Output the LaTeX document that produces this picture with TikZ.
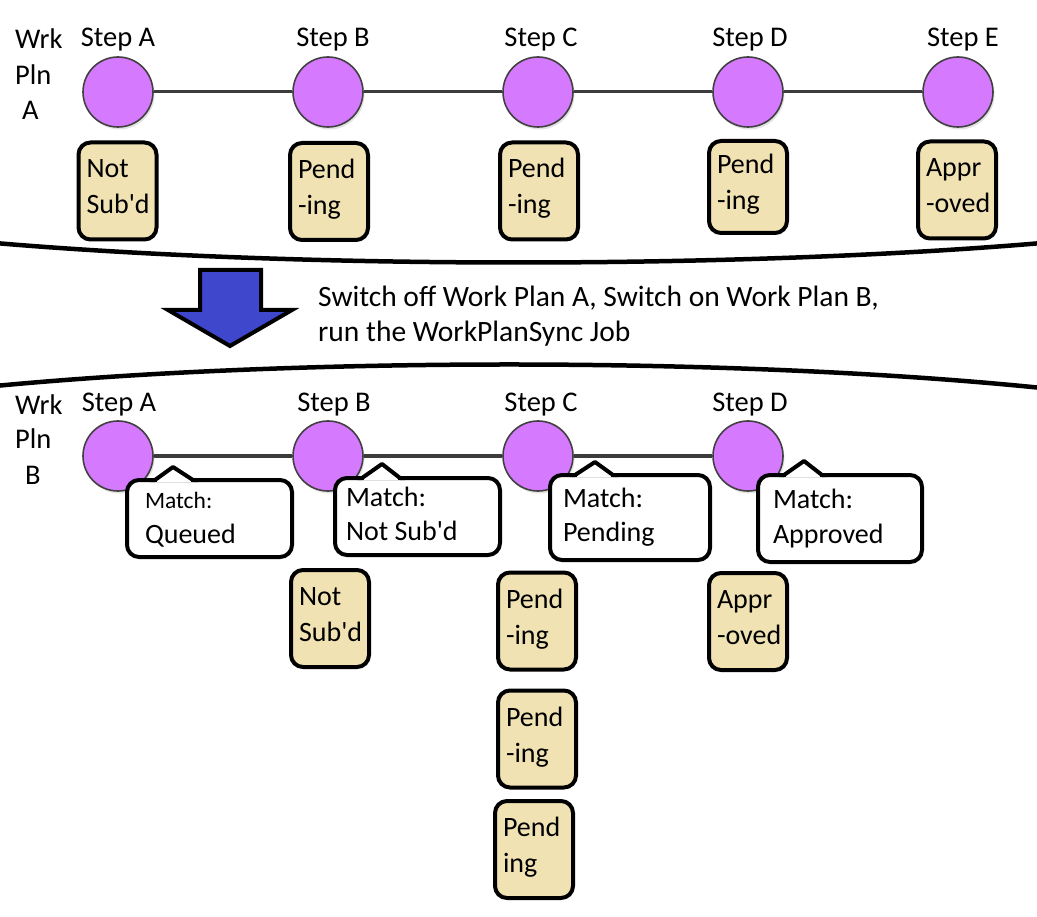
\documentclass[tikz,border=0pt]{standalone}
\usepackage{fontspec}
\setmainfont{Carlito}
\usetikzlibrary{shadows}
\definecolor{stepviolet}{RGB}{213,122,255}
\definecolor{tanfill}{RGB}{240,226,178}
\definecolor{arrowblue}{RGB}{63,72,204}
\definecolor{linegray}{RGB}{60,60,60}
\newcommand\twoline[4]{\vtop{\baselineskip=#1\hbox to #2{#3\hfil}\hbox to #2{#4\hfil}}}
\newcommand\plainlines[3]{\vtop{\baselineskip=#1\hbox{#2}\hbox{#3}}}
\newcommand\apo{\textquotesingle}
\begin{document}
\begin{tikzpicture}[x=1pt,y=-1pt,
  stepdot/.style={circle, minimum size=70pt, inner sep=0pt, fill=stepviolet,
    draw=black!75, line width=1.6pt,
    drop shadow={shadow xshift=1.5pt, shadow yshift=-2.5pt, opacity=0.22}},
  steplabel/.style={anchor=base, inner sep=0pt, font=\fontsize{28.5}{32}\selectfont},
  planline/.style={anchor=base west, inner sep=0pt, font=\fontsize{28.5}{32}\selectfont},
  tanbox/.style={draw, line width=4pt, rounded corners=12pt, fill=tanfill,
    minimum width=78pt, minimum height=97pt, inner xsep=8pt, inner ysep=0pt,
    text height=20pt, text depth=46pt, font=\fontsize{28}{36}\selectfont},
  callbox/.style={rectangle, draw, line width=4pt, rounded corners=12pt,
    fill=white, inner xsep=18pt, inner ysep=0pt,
    text height=20pt, text depth=41pt, minimum height=77pt,
    font=\fontsize{28}{35}\selectfont},
  pointer/.style={draw, line width=4pt, fill=white, line join=round},
  eraser/.style={draw=white, line width=4.4pt},
  link/.style={line width=3pt, draw=linegray},
  bigarrow/.style={line width=4pt, draw=black, fill=arrowblue, line join=miter},
  divider/.style={line width=4.5pt, draw=black}
]
\useasboundingbox (0,0) rectangle (1037,917);

% ---------- Work plan A ----------
\node[planline] (wa1) at (15,49) {Wrk};
\node[planline] (wa2) at (15,85) {Pln};
\node[planline] (wa3) at (22,120) {A};

\foreach \n/\x/\lx/\t in {1/118/118/A,2/328/333/B,3/538/541/C,4/748/750/D,5/958/963/E}{
  \node[stepdot] (a\n) at (\x,92) {};
  \node[steplabel] (la\n) at (\lx,47) {Step \t};
}
\draw[link] (a1) -- (a2);
\draw[link] (a2) -- (a3);
\draw[link] (a3) -- (a4);
\draw[link] (a4) -- (a5);

\node[tanbox] (ta1) at (117.5,191) {\twoline{36pt}{62pt}{Not}{Sub\apo d}};
\node[tanbox] (ta2) at (329,191.5) {\twoline{36pt}{62pt}{Pend}{-ing}};
\node[tanbox] (ta3) at (539,191) {\twoline{36pt}{62pt}{Pend}{-ing}};
\node[tanbox, minimum height=92pt] (ta4) at (748,187) {\twoline{36pt}{62pt}{Pend}{-ing}};
\node[tanbox] (ta5) at (957,190) {\twoline{36pt}{62pt}{Appr}{-oved}};

% ---------- dividers and transition ----------
\draw[divider] (-5,243) .. controls (300,269) and (737,269) .. (1042,243);
\draw[divider] (-5,386) .. controls (300,357) and (737,357) .. (1042,388);

\draw[bigarrow] (200,270) -- (261,270) -- (261,310) -- (292,310) -- (230,346)
  -- (168,310) -- (200,310) -- cycle;
\node[anchor=base west, inner sep=0pt, font=\fontsize{29.5}{35}\selectfont] (note) at (318,307)
  {\plainlines{35pt}{Switch off Work Plan A, Switch on Work Plan B,}{run the WorkPlanSync Job}};

% ---------- Work plan B ----------
\node[planline] (wb1) at (15,414) {Wrk};
\node[planline] (wb2) at (15,449) {Pln};
\node[planline] (wb3) at (25,484) {B};

\foreach \n/\x/\lx/\t in {1/118/119/A,2/328/334/B,3/538/541/C,4/748/750/D}{
  \node[stepdot] (b\n) at (\x,456) {};
  \node[steplabel] (lb\n) at (\lx,412) {Step \t};
}
\draw[link] (b1) -- (b2);
\draw[link] (b2) -- (b3);
\draw[link] (b3) -- (b4);

% callouts
\node[callbox] (ca) at (209.5,518.5)
  {\twoline{35pt}{129pt}{\fontsize{23.5}{35}\selectfont Match:}{Queued}};
\draw[eraser] (157,480) -- (191,480);
\draw[pointer] (150,480) -- (155,480) -- (173,467) -- (193,480) -- (198,480);

\node[callbox, inner xsep=11pt] (cb) at (417.5,516.5)
  {\twoline{35pt}{143pt}{Match:}{Not Sub\apo d}};
\draw[eraser] (364,478) -- (398,478);
\draw[pointer] (357,478) -- (362,478) -- (382,464) -- (400,478) -- (405,478);

\node[callbox, inner xsep=13pt, minimum height=85pt] (cc) at (630,517.5)
  {\twoline{35pt}{134pt}{Match:}{Pending}};
\draw[eraser] (577,475) -- (611,475);
\draw[pointer] (570,475) -- (575,475) -- (595,462) -- (613,475) -- (618,475);

\node[callbox, inner xsep=15pt, minimum height=87pt] (cd) at (840,518.5)
  {\twoline{35pt}{134pt}{Match:}{Approved}};
\draw[eraser] (786,475) -- (820,475);
\draw[pointer] (779,475) -- (784,475) -- (804,461) -- (822,475) -- (827,475);

\node[tanbox] (tb2) at (330,618.5) {\twoline{36pt}{62pt}{Not}{Sub\apo d}};
\node[tanbox] (tb3a) at (537,621) {\twoline{36pt}{62pt}{Pend}{-ing}};
\node[tanbox] (tb3b) at (537,739) {\twoline{36pt}{62pt}{Pend}{-ing}};
\node[tanbox] (tb3c) at (534,849.5) {\twoline{36pt}{62pt}{Pend}{ing}};
\node[tanbox] (tb4) at (748,621.5) {\twoline{36pt}{62pt}{Appr}{-oved}};
\end{tikzpicture}
\end{document}
